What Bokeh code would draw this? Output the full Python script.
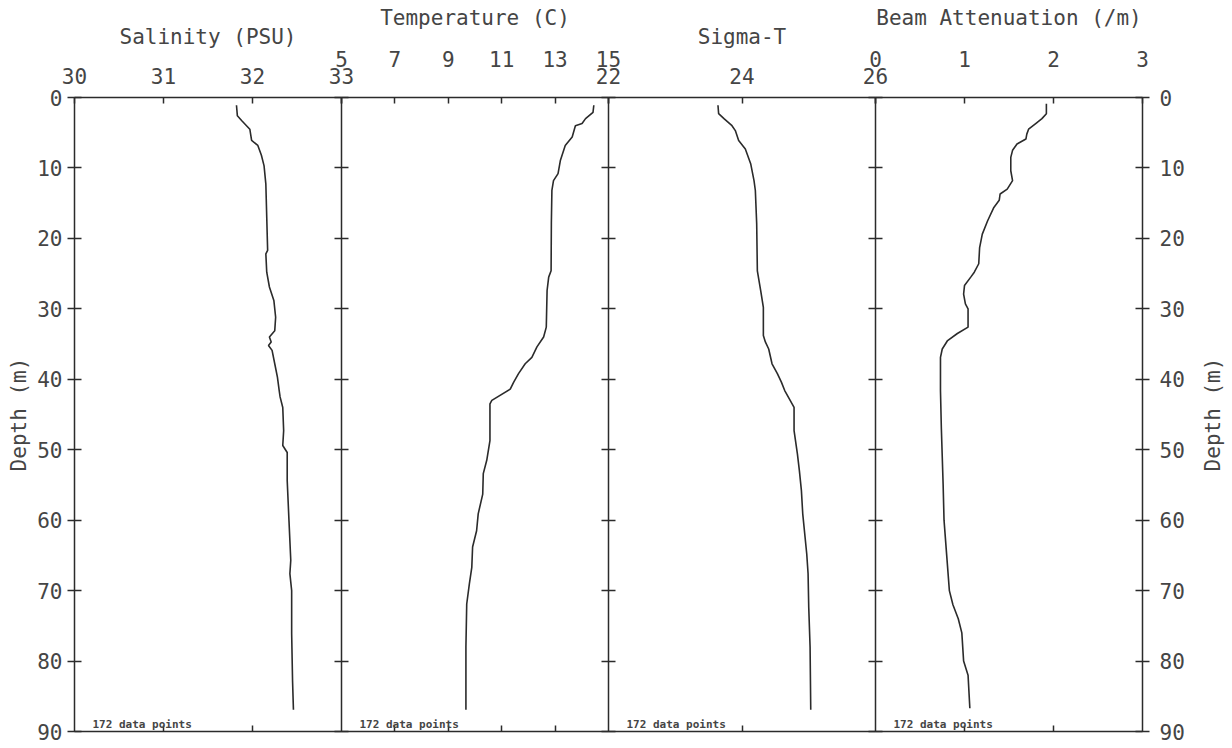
import math

from bokeh.plotting import figure
from bokeh.models import Range1d, LinearAxis, FixedTicker, Label
from bokeh.embed import file_html
from bokeh.resources import INLINE

# ---- CTD cast profiles (depth in m) ----
sal_depth = [1.1, 2.6, 3.3, 4.5, 6.1, 6.8, 8.2, 9.7, 12.3, 17.0, 21.7, 22.2, 24.8, 26.9,
             28.8, 31.2, 33.1, 34.0, 34.7, 35.2, 35.9, 37.8, 39.7, 41.6, 42.5, 44.0, 47.3,
             49.4, 50.4, 54.4, 60.1, 65.7, 67.6, 70.0, 76.1, 82.8, 86.9]
salinity = [31.82, 31.83, 31.88, 31.97, 31.99, 32.06, 32.10, 32.13, 32.15, 32.16, 32.17, 32.15,
            32.16, 32.19, 32.24, 32.26, 32.25, 32.19, 32.21, 32.18, 32.22, 32.25, 32.28, 32.30,
            32.31, 32.34, 32.35, 32.34, 32.39, 32.39, 32.41, 32.43, 32.42, 32.44, 32.44, 32.45,
            32.46]

temp_depth = [1.1, 2.1, 3.0, 3.7, 4.0, 5.6, 6.8, 8.9, 10.8, 11.8, 13.2, 17.9, 24.6, 25.5, 27.4,
              32.6, 34.0, 35.4, 36.9, 37.8, 39.2, 40.4, 41.4, 43.0, 43.5, 48.7, 51.5, 53.4,
              56.3, 59.1, 61.5, 63.8, 66.7, 69.0, 71.9, 78.0, 86.9]
temperature = [14.45, 14.42, 14.14, 14.01, 13.76, 13.64, 13.38, 13.20, 13.11, 12.94, 12.88,
               12.86, 12.85, 12.76, 12.70, 12.67, 12.57, 12.32, 12.13, 11.88, 11.63, 11.45,
               11.32, 10.63, 10.56, 10.56, 10.44, 10.31, 10.29, 10.12, 10.06, 9.91, 9.88, 9.79,
               9.69, 9.66, 9.66]

sig_depth = [1.1, 2.3, 3.0, 4.0, 4.7, 6.1, 7.3, 9.4, 11.8, 13.2, 17.9, 24.6, 27.4, 29.8, 33.8,
             34.7, 35.7, 37.8, 39.2, 40.4, 41.6, 44.0, 47.3, 50.6, 53.0, 55.8, 59.1, 64.8,
             67.6, 72.4, 78.0, 86.9]
sigma_t = [23.64, 23.65, 23.73, 23.85, 23.90, 23.95, 24.05, 24.13, 24.18, 24.20, 24.22, 24.23,
           24.28, 24.32, 24.32, 24.35, 24.40, 24.45, 24.53, 24.59, 24.64, 24.78, 24.78, 24.83,
           24.86, 24.89, 24.91, 24.97, 24.99, 25.00, 25.02, 25.03]

beam_depth = [0.9, 2.3, 3.0, 3.7, 4.5, 5.2, 5.9, 6.6, 7.5, 8.5, 10.4, 11.8, 13.0, 13.7, 14.6,
              15.6, 17.5, 19.4, 21.3, 23.6, 24.8, 25.5, 26.7, 27.9, 29.3, 30.0, 32.6, 33.5,
              34.5, 35.7, 36.9, 41.6, 47.0, 55.0, 60.0, 65.0, 70.0, 72.0, 74.0, 76.0, 80.0,
              82.0, 86.7]
beam_att = [1.92, 1.92, 1.87, 1.80, 1.72, 1.70, 1.69, 1.59, 1.54, 1.52, 1.52, 1.54, 1.48, 1.40,
            1.39, 1.33, 1.26, 1.20, 1.17, 1.16, 1.11, 1.07, 1.00, 0.99, 1.01, 1.04, 1.04, 0.92,
            0.81, 0.75, 0.73, 0.73, 0.74, 0.76, 0.77, 0.80, 0.83, 0.87, 0.93, 0.97, 0.99, 1.04,
            1.06]

depth_ticks = [0, 10, 20, 30, 40, 50, 60, 70, 80, 90]
depth_title = "Depth (m)"
n_points_note = "172 data points"

# panel: range name, title, limits, tick values, label row (1 = near box, 2 = higher)
panels = [
    ("sal", "Salinity (PSU)", (30, 33), [30, 31, 32, 33], 1, sal_depth, salinity),
    ("temp", "Temperature (C)", (5, 15), [5, 7, 9, 11, 13, 15], 2, temp_depth, temperature),
    ("sig", "Sigma-T", (22, 26), [22, 24, 26], 1, sig_depth, sigma_t),
    ("beam", "Beam Attenuation (/m)", (0, 3), [0, 1, 2, 3], 2, beam_depth, beam_att),
]

FONT = "DejaVu Sans Mono"
INK = "#2b2b2b"
TEXT = "#454545"
FS = "21px"

# page geometry: the plotting frame fills the canvas; the panel box sits inside it
W, H = 1232, 748
BOX_L, BOX_R, BOX_T, BOX_B = 74, 1142, 97, 731
D_MAX = 90.0
d_per_px = D_MAX / (BOX_B - BOX_T)
n = len(panels)
panel_px = (BOX_R - BOX_L) / n

p = figure(width=W, height=H, x_range=Range1d(0, W), y_range=Range1d(
    D_MAX + (H - BOX_B) * d_per_px, -BOX_T * d_per_px),
    x_axis_type=None, y_axis_type=None, output_backend="svg",
    toolbar_location=None, min_border=0)
p.outline_line_color = None
p.background_fill_color = "white"
p.border_fill_color = "white"


def style_axis(ax):
    ax.minor_tick_line_color = None
    ax.major_tick_line_color = INK
    ax.major_tick_line_width = 1.5
    ax.axis_line_color = INK
    ax.axis_line_width = 1.5
    ax.major_label_text_font = FONT
    ax.major_label_text_font_size = FS
    ax.major_label_text_color = TEXT
    ax.axis_label_text_font = FONT
    ax.axis_label_text_font_size = FS
    ax.axis_label_text_font_style = "normal"
    ax.axis_label_text_color = TEXT
    return ax


for i, (name, title, (lo, hi), ticks, row, dep, vals) in enumerate(panels):
    per_px = (hi - lo) / panel_px
    left_px = BOX_L + i * panel_px
    # each quantity gets its own scale, placing it in its own panel of the box
    p.extra_x_ranges[name] = Range1d(lo - left_px * per_px, lo + (W - left_px) * per_px)

    p.line(x=vals, y=dep, x_range_name=name, line_color=INK, line_width=1.6)

    top = style_axis(LinearAxis(x_range_name=name, ticker=FixedTicker(ticks=ticks),
                                bounds=(lo, hi), fixed_location=0, axis_label=title))
    top.major_tick_in = 6
    top.major_tick_out = 0
    if row == 1:
        top.major_label_standoff = 14
        top.axis_label_standoff = 16
    else:
        top.major_label_standoff = 31
        top.axis_label_standoff = 18
    p.add_layout(top, "above")

    inner = [t for t in ticks if lo < t < hi]
    bottom = style_axis(LinearAxis(x_range_name=name, ticker=FixedTicker(ticks=inner),
                                   bounds=(lo, hi), fixed_location=D_MAX))
    bottom.major_tick_in = 6
    bottom.major_tick_out = 0
    bottom.major_label_text_color = None
    p.add_layout(bottom, "below")

    if i < n - 1:
        # divider between this panel and the next, with depth ticks crossing it
        sep = style_axis(LinearAxis(x_range_name=name, ticker=FixedTicker(ticks=depth_ticks),
                                    bounds=(0, D_MAX), fixed_location=hi))
        sep.major_tick_in = 7
        sep.major_tick_out = 7
        sep.major_label_text_color = None
        p.add_layout(sep, "left")

    p.add_layout(Label(x=lo, y=D_MAX, x_range_name=name, x_offset=18, y_offset=1,
                       text=n_points_note, text_font=FONT, text_font_size="11px",
                       text_font_style="bold", text_color=TEXT, text_baseline="bottom"))

first, last = panels[0], panels[-1]

left = style_axis(LinearAxis(x_range_name=first[0], ticker=FixedTicker(ticks=depth_ticks),
                             bounds=(0, D_MAX), fixed_location=first[2][0],
                             axis_label=depth_title))
left.major_tick_in = 7
left.major_tick_out = 7
left.major_label_standoff = 5
left.axis_label_standoff = 3
p.add_layout(left, "left")

right = style_axis(LinearAxis(x_range_name=last[0], ticker=FixedTicker(ticks=depth_ticks),
                              bounds=(0, D_MAX), fixed_location=last[2][1]))
right.major_tick_in = 7
right.major_tick_out = 7
right.major_label_standoff = 10
p.add_layout(right, "right")

p.add_layout(Label(x=last[2][1], y=D_MAX / 2, x_range_name=last[0], x_offset=70,
                   text=depth_title, angle=math.pi / 2, text_font=FONT, text_font_size=FS,
                   text_color=TEXT, text_align="center", text_baseline="middle"))

open("out.html", "w").write(file_html(p, INLINE))
